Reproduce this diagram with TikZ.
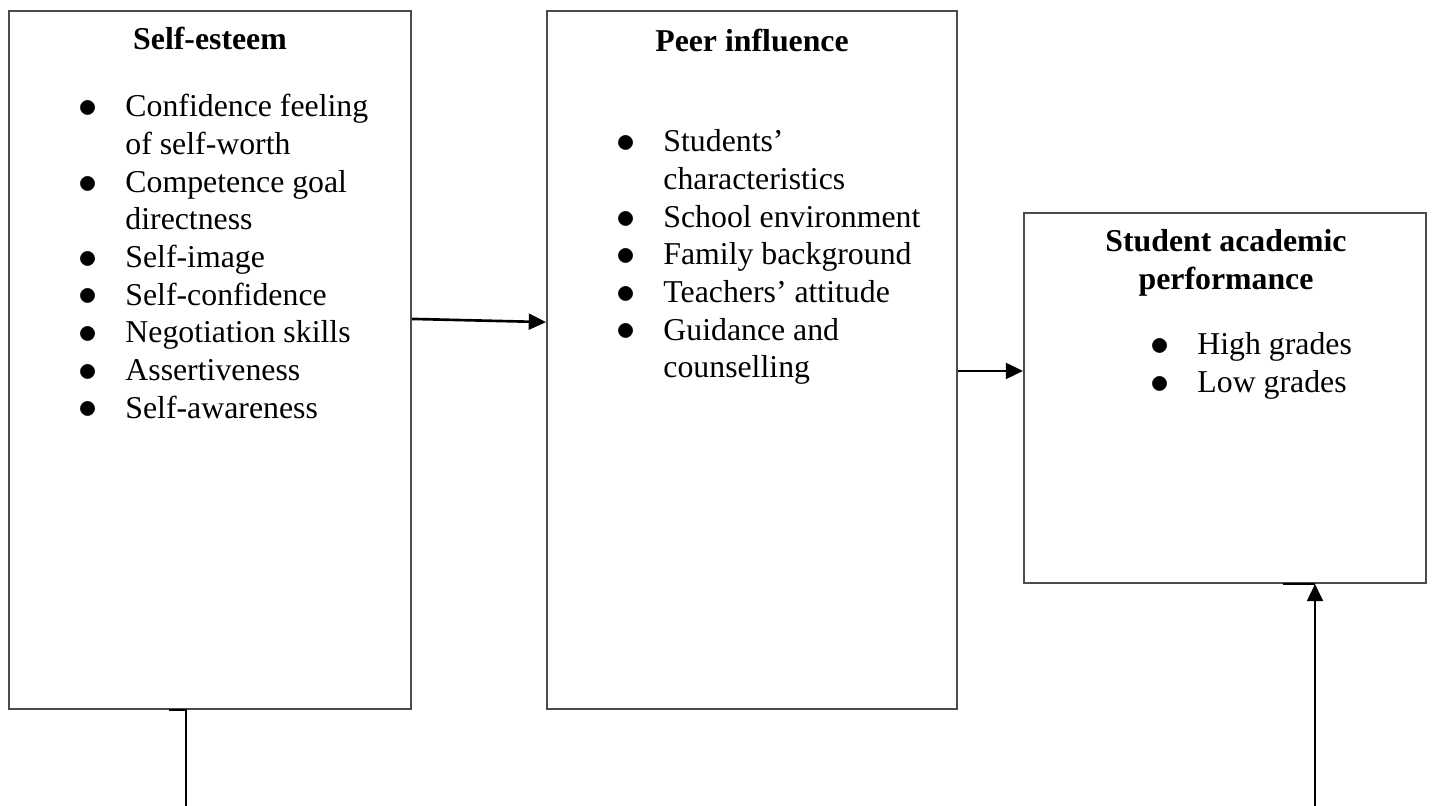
\documentclass[tikz,border=0pt]{standalone}
\usepackage{fontspec}
\setmainfont{Liberation Serif}
\usetikzlibrary{arrows.meta, fit}
\newcommand\bigdot{\raisebox{-0.3pt}{\fontsize{13.5}{14.2}\selectfont$\bullet$}}

\begin{document}
\begin{tikzpicture}[x=0.3774pt, y=-0.3774pt,
 box/.style={draw=black!70, line width=0.75pt, inner sep=0pt},
 head/.style={font=\fontsize{12}{14.2}\selectfont\bfseries, inner sep=0pt, anchor=base},
 list/.style={font=\fontsize{12}{14.2}\selectfont, inner sep=0pt, anchor=base west},
 conn/.style={line width=1pt, -{Triangle[length=6.5pt, width=6pt]}},
 wire/.style={line width=1pt}]
 \useasboundingbox (0,0) rectangle (1434,806);
 % the three boxes
 \node[box, fit={(9,11) (411,709)}] (self) {};
 \node[box, fit={(547,11) (957,709)}] (peer) {};
 \node[box, fit={(1024,213) (1426,583)}] (perf) {};
 \node[head] (selfhead) at (210,50) {Self-esteem};
 \node[head] (peerhead) at (752,52) {Peer influence};
 \node[head] (perfhead) at (1226,252)
  {\begin{tabular}[t]{@{}c@{}}Student academic\\ performance\end{tabular}};
 \node[list] (selflist) at (78,117) {\begin{tabular}[t]{@{}p{17.7pt}@{}l@{}}
  \bigdot & Confidence feeling\\ & of self-worth\\
  \bigdot & Competence goal\\ & directness\\
  \bigdot & Self-image\\
  \bigdot & Self-confidence\\
  \bigdot & Negotiation skills\\
  \bigdot & Assertiveness\\
  \bigdot & Self-awareness
 \end{tabular}};
 \node[list] (peerlist) at (616,152) {\begin{tabular}[t]{@{}p{17.7pt}@{}l@{}}
  \bigdot & Students’\\ & characteristics\\
  \bigdot & School environment\\
  \bigdot & Family background\\
  \bigdot & Teachers’ attitude\\
  \bigdot & Guidance and\\ & counselling
 \end{tabular}};
 \node[list] (perflist) at (1150,355) {\begin{tabular}[t]{@{}p{17.7pt}@{}l@{}}
  \bigdot & High grades\\
  \bigdot & Low grades
 \end{tabular}};
 % arrows between boxes
 \draw[conn] ([yshift=15.5pt]self.east) -- ([yshift=14.3pt]peer.west);
 \coordinate (in3) at ([yshift=10.2pt]perf.west);
 \draw[conn] (peer.east |- in3) -- (in3);
 % lines to the bottom edge
 \coordinate (end1) at (186,806);
 \coordinate (end2) at (1315,806);
 \draw[wire] (end1) -- (end1 |- self.south) -- ++(-6.4pt,0);
 \draw[wire] (end2 |- perf.south) -- ++(-12pt,0);
 \draw[conn] (end2) -- (end2 |- perf.south);
\end{tikzpicture}
\end{document}
